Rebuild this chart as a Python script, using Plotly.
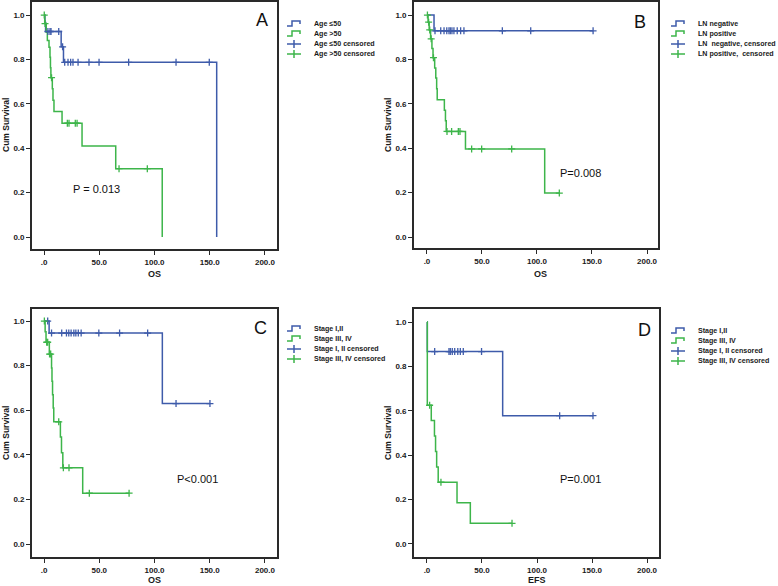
import numpy as np
import plotly.graph_objects as go
from plotly.subplots import make_subplots

W, H = 778, 586
BLUE = "#3E5BAA"
GREEN = "#3DB54A"
INK = "#2a2a2a"

# ---- Panel A: OS by age ----
a_blue_t = [0, 0.8, 1.4, 15.5, 17.6, 156.3]
a_blue_s = [1.0, 0.967, 0.926, 0.857, 0.787, 0.0]
a_blue_cens = [3.5, 5.4, 6.3, 13.3, 16.8, 18.7, 21.7, 24.1, 26.2, 30.8, 40.7, 49.8, 76.6, 119.5, 149.6]
a_green_t = [0, 0.6, 2.0, 3.0, 4.5, 5.4, 5.8, 6.2, 7.5, 8.1, 9.0, 16.3, 34.4, 64.9, 107.0]
a_green_s = [1.0, 0.962, 0.923, 0.885, 0.855, 0.81, 0.763, 0.718, 0.668, 0.616, 0.566, 0.513, 0.41, 0.308, 0.0]
a_green_cens = [0.2, 0.9, 6.8, 21.1, 22.6, 28.3, 29.9, 67.9, 93.5]

# ---- Panel B: OS by lymph node status ----
b_blue_t = [0, 6.4]
b_blue_s = [1.0, 0.929]
b_blue_cens = [7.3, 12.5, 15.5, 18.0, 20.0, 21.2, 22.7, 24.5, 27.5, 30.6, 33.6, 68.5, 94.3, 151.0]
b_green_t = [0, 1.0, 2.0, 3.3, 4.5, 5.5, 7.0, 8.0, 8.8, 9.3, 15.8, 16.8, 17.5, 35.0, 107.0]
b_green_s = [1.0, 0.968, 0.933, 0.893, 0.85, 0.808, 0.762, 0.716, 0.668, 0.619, 0.571, 0.524, 0.476, 0.397, 0.198]
b_green_cens = [0.4, 1.5, 2.5, 3.8, 5.9, 18.2, 22.4, 28.5, 30.0, 40.6, 49.7, 77.0, 120.3]

# ---- Panel C: OS by stage ----
c_blue_t = [0, 4.6, 107.1]
c_blue_s = [1.0, 0.946, 0.63]
c_blue_cens = [3.3, 6.8, 16.0, 20.3, 22.4, 24.5, 27.0, 28.8, 31.0, 33.6, 49.6, 68.4, 93.8, 119.5, 150.2]
c_green_t = [0, 1.0, 1.8, 4.8, 6.8, 7.2, 7.7, 8.3, 8.8, 14.8, 15.8, 17.0, 35.0]
c_green_s = [1.0, 0.952, 0.905, 0.852, 0.79, 0.73, 0.67, 0.61, 0.548, 0.48, 0.41, 0.342, 0.228]
c_green_cens = [0.3, 2.4, 3.3, 5.0, 6.0, 13.3, 17.5, 22.6, 41.0, 77.0]

# ---- Panel D: EFS by stage ----
d_blue_t = [0, 0.3, 68.8]
d_blue_s = [1.0, 0.867, 0.578]
d_blue_cens = [7.0, 20.0, 21.2, 23.0, 25.2, 28.0, 30.3, 33.0, 49.6, 120.6, 150.9]
d_green_t = [0, 0.3, 3.9, 6.8, 7.8, 8.8, 10.2, 27.3, 39.4]
d_green_s = [1.0, 0.625, 0.556, 0.486, 0.417, 0.347, 0.278, 0.185, 0.093]
d_green_cens = [2.4, 12.7, 77.3]

x_tickvals = [0, 50, 100, 150, 200]
x_ticktext = [".0", "50.0", "100.0", "150.0", "200.0"]
y_tickvals = [0, 0.2, 0.4, 0.6, 0.8, 1.0]
y_ticktext = ["0.0", "0.2", "0.4", "0.6", "0.8", "1.0"]

panels = [
    dict(letter="A", xlab="OS", p="P = 0.013",
         curves=[(a_blue_t, a_blue_s, a_blue_cens), (a_green_t, a_green_s, a_green_cens)],
         legend=["Age \u226450", "Age >50", "Age \u226450 censored", "Age >50 censored"],
         box=(32, 2, 277, 249), xr=[-10.9, 210.9], yr=[-0.054, 1.059],
         letter_xy=(262, 20), p_xy=(96, 189), ytitle_xy=(6, 125), xtitle_xy=(154, 274),
         leg_xy=(287, 24)),
    dict(letter="B", xlab="OS", p="P=0.008",
         curves=[(b_blue_t, b_blue_s, b_blue_cens), (b_green_t, b_green_s, b_green_cens)],
         legend=["LN negative", "LN positive", "LN  negative, censored", "LN positive,  censored"],
         box=(414, 2, 658, 248), xr=[-11.8, 210.0], yr=[-0.0495, 1.059],
         letter_xy=(640, 22), p_xy=(580, 173), ytitle_xy=(388, 125), xtitle_xy=(540, 274),
         leg_xy=(671, 24)),
    dict(letter="C", xlab="OS", p="P<0.001",
         curves=[(c_blue_t, c_blue_s, c_blue_cens), (c_green_t, c_green_s, c_green_cens)],
         legend=["Stage I,II", "Stage III, IV", "Stage I, II censored", "Stage III, IV censored"],
         box=(32, 309, 277, 557), xr=[-10.9, 210.9], yr=[-0.058, 1.054],
         letter_xy=(260, 328), p_xy=(197, 479), ytitle_xy=(6, 433), xtitle_xy=(154, 580),
         leg_xy=(287, 329)),
    dict(letter="D", xlab="EFS", p="P=0.001",
         curves=[(d_blue_t, d_blue_s, d_blue_cens), (d_green_t, d_green_s, d_green_cens)],
         legend=["Stage I,II", "Stage III, IV", "Stage I, II censored", "Stage III, IV censored"],
         box=(414, 309, 659, 557), xr=[-11.8, 210.9], yr=[-0.059, 1.059],
         letter_xy=(644, 330), p_xy=(580, 479), ytitle_xy=(388, 433), xtitle_xy=(537, 580),
         leg_xy=(671, 331)),
]


def px(x):
    return x / W


def py(y):
    return 1 - y / H


def step_at(t, s, x):
    i = np.searchsorted(np.asarray(t), x, side="right") - 1
    return np.asarray(s)[i]


fig = make_subplots(rows=2, cols=2)
colors = [BLUE, GREEN]
shapes = []
annotations = []

for k, pn in enumerate(panels):
    row, col = k // 2 + 1, k % 2 + 1
    # lines first, censor marks on top
    for (t, s, cens), c in zip(pn["curves"], colors):
        end = max(t[-1], max(cens))
        xs = list(t) + ([end] if end > t[-1] else [])
        ys = list(s) + ([s[-1]] if end > t[-1] else [])
        fig.add_trace(go.Scatter(x=xs, y=ys, mode="lines", line=dict(color=c, width=1.5, shape="hv"),
                                 showlegend=False, hoverinfo="skip"), row=row, col=col)
    for (t, s, cens), c in zip(pn["curves"], colors):
        fig.add_trace(go.Scatter(x=cens, y=step_at(t, s, cens), mode="markers",
                                 marker=dict(symbol="cross-thin", size=5, line=dict(color=c, width=1.3)),
                                 showlegend=False, hoverinfo="skip"), row=row, col=col)

    x0, y0, x1, y1 = pn["box"]
    fig.update_xaxes(domain=[px(x0), px(x1)], range=pn["xr"], tickvals=x_tickvals, ticktext=x_ticktext,
                     row=row, col=col)
    fig.update_yaxes(domain=[py(y1), py(y0)], range=pn["yr"], tickvals=y_tickvals, ticktext=y_ticktext,
                     row=row, col=col)

    bold = dict(family="Arial", color="#1a1a1a", weight="bold")
    annotations += [
        dict(x=px(pn["letter_xy"][0]), y=py(pn["letter_xy"][1]), text=pn["letter"],
             font=dict(family="Arial", size=18, color="#111")),
        dict(x=px(pn["p_xy"][0]), y=py(pn["p_xy"][1]), text=pn["p"],
             font=dict(family="Arial", size=11, color="#111")),
        dict(x=px(pn["ytitle_xy"][0]), y=py(pn["ytitle_xy"][1]), text="Cum Survival", textangle=-90,
             font=dict(size=8.5, **bold)),
        dict(x=px(pn["xtitle_xy"][0]), y=py(pn["xtitle_xy"][1]), text=pn["xlab"],
             font=dict(size=9, **bold)),
    ]

    # hand-drawn legend (SPSS style step / cross icons)
    lx, ly = pn["leg_xy"]
    for j, label in enumerate(pn["legend"]):
        c = colors[j % 2]
        yy = ly + j * 10
        if j < 2:
            path = (f"M {px(lx)} {py(yy + 2)} L {px(lx + 5)} {py(yy + 2)} L {px(lx + 5)} {py(yy - 3)} "
                    f"L {px(lx + 13)} {py(yy - 3)} L {px(lx + 13)} {py(yy)}")
            shapes.append(dict(type="path", xref="paper", yref="paper", path=path,
                               line=dict(color=c, width=1.5)))
        else:
            shapes.append(dict(type="line", xref="paper", yref="paper", x0=px(lx), x1=px(lx + 14),
                               y0=py(yy), y1=py(yy), line=dict(color=c, width=1.5)))
            shapes.append(dict(type="line", xref="paper", yref="paper", x0=px(lx + 7), x1=px(lx + 7),
                               y0=py(yy - 4), y1=py(yy + 4), line=dict(color=c, width=1.5)))
        annotations.append(dict(x=px(lx + 25), y=py(yy), text=label, xanchor="left",
                                font=dict(family="Arial", size=7.1, color="#1a1a1a", weight="bold")))

for a in annotations:
    a.setdefault("xanchor", "center")
    a.update(xref="paper", yref="paper", yanchor="middle", showarrow=False)

fig.update_xaxes(showline=True, mirror=True, linecolor=INK, linewidth=1.8, ticks="outside", ticklen=4,
                 tickcolor=INK, showgrid=False, zeroline=False,
                 tickfont=dict(family="Arial", size=8, color="#1a1a1a", weight="bold"))
fig.update_yaxes(showline=True, mirror=True, linecolor=INK, linewidth=1.8, ticks="outside", ticklen=4,
                 tickcolor=INK, showgrid=False, zeroline=False,
                 tickfont=dict(family="Arial", size=8, color="#1a1a1a", weight="bold"))

fig.update_layout(width=W, height=H, margin=dict(l=0, r=0, t=0, b=0), plot_bgcolor="white",
                  paper_bgcolor="white", showlegend=False, shapes=shapes, annotations=annotations)

# drop the browser's default 8px body margin so the figure sits flush in the window
fig.write_html("out.html", config={"displayModeBar": False},
               post_script="document.body.style.margin='0';document.body.style.overflow='hidden';")
